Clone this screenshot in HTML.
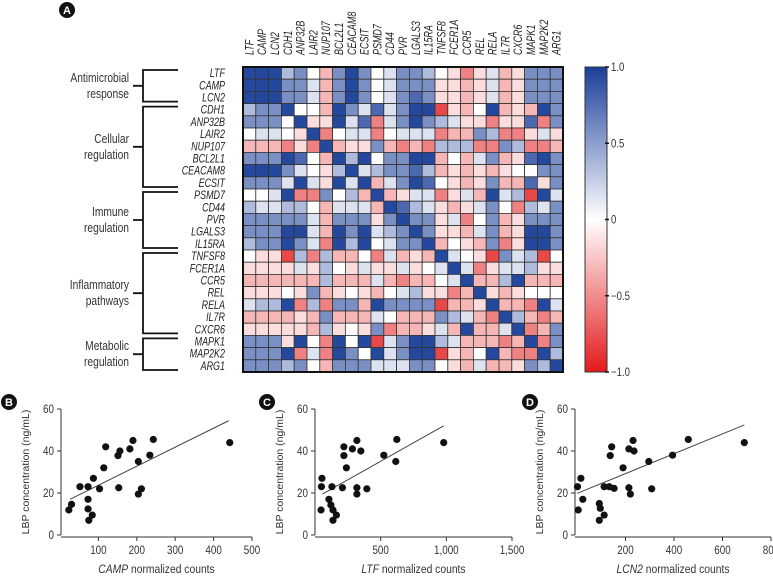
<!DOCTYPE html>
<html><head><meta charset="utf-8"><style>
html,body{margin:0;padding:0;background:#fff;}
svg{display:block;font-family:"Liberation Sans",sans-serif;}
</style></head><body>
<svg id="fig" width="773" height="577" viewBox="0 0 773 577" xmlns="http://www.w3.org/2000/svg">
<g id="panelA"></g>
<g id="panelB"></g>
<g id="panelC"></g>
<g id="panelD"></g>
</svg>
<script>
const genes = ["LTF","CAMP","LCN2","CDH1","ANP32B","LAIR2","NUP107","BCL2L1","CEACAM8","ECSIT","PSMD7","CD44","PVR","LGALS3","IL15RA","TNFSF8","FCER1A","CCR5","REL","RELA","IL7R","CXCR6","MAPK1","MAP2K2","ARG1"];
const corrRows = [
"D D D L M W P M D M W l M M L W p R p l P p M M M",
"D D D M M l P M D M W l M M M p p P p l P p M M M",
"D D D M M l P M D M W l M B M p p P p l P p M M M",
"L M M D W W P D M l B l M D D X p P W D P p P D M",
"M M M W D p p D l B R l M D M L l p p R p p B R M",
"W l l W p D R W l l R W l l l R P P M L R R p l p",
"P P P R p R D P p p M P R P R L L L R R M L R R P",
"M M M D B W P D L D W M M D D P W P l M P p B D M",
"D D D M l W p L D l L M M B L P p P p P p W W M M",
"M M M l D l p D l D P l M D B W p P p M P P B p M",
"W W l D R R M W L P D P p l l R p l P D l L X D l",
"L l l L L W P l l l P D B L l p P p l M W R L l M",
"M M M M M l P M M M p M D M M p l R W M P p M M M",
"M M M D D l P D M D l L M D M p p P l M P p D D M",
"L M M D M l R D L D W l M M D P W p P M R p D D M",
"W p p X L R L P P W R l P p P D l W p X M l L X W",
"p p p p l p L W p l p p l p W l D l R p l l L p p",
"P P P P P P L P P P l P R P P W l D P P L D P P P",
"p p p W p M P p W p P W l L p p R P D p P p W W W",
"l L L D R L R M M P D M M M M X P P p D P P R D l",
"P P P P p P M P P P l W P P P M L l P R D L P R P",
"p p p p p P L p W p M R P P p l P D P P l D R P M",
"M M M p D W R D W D X l M D D L l P P P R P D R M",
"M M M D R l R D M W D l M D D X p P W D P R R D L",
"M M M L M W P M M M l l l M M W p P l P P p M L D"];
const codeVal = {D:0.95,B:0.78,M:0.58,L:0.35,l:0.15,W:0,p:-0.15,P:-0.32,R:-0.55,X:-0.8};
const groupNames = [["Antimicrobial","response"],["Cellular","regulation"],["Immune","regulation"],["Inflammatory","pathways"],["Metabolic","regulation"]];
const groupStarts = [0,3,10,15,22];
const groupEnds = [2,9,14,21,24];
const cbTicks = [1.0,0.5,0,-0.5,-1.0];
const cbTickLabels = ["1.0","0.5","0","\u22120.5","\u22121.0"];

const campX = [23,30,52,73,73,73,75,84,87,103,114,119,151,153,156,182,190,204,204,212,234,243,442];
const campY = [11.9,14.6,23,23,17,12.4,7,9.5,27,22,32,42,37.8,22.5,40,41,45,35,19.5,22,38,45.5,44];
const campFit = [[26,17],[439,54.4]];
const ltfX = [46,53,49,106,121,129,137,137,163,209,220,220,239,285,319,319,319,349,395,524,615,623,980];
const ltfY = [11.9,27,23,17,14.3,23,11.9,7,9.5,22.5,42,37.8,32,41,45,22.5,19.5,40,22,38,35,45.5,44];
const ltfFit = [[57,19.5],[980,52]];
const lcn2X = [2,5,16,24,92,96,92,112,112,133,137,143,153,190,214,214,220,231,235,296,308,394,459,690];
const lcn2Y = [23,11.9,27,17,15,12.7,7,9.5,23,23,37.8,42,22.2,32,41,22.5,19.5,45,40,35,22,38,45.5,44];
const lcn2Fit = [[0,19.8],[690,52.4]];
const yTicks = [0,20,40,60];
const campTicks = [100,200,300,400,500];
const ltfTicks = [500,1000,1500];
const ltfTickLabels = ["500","1,000","1,500"];
const lcn2Ticks = [200,400,600,800];

const NS = "http://www.w3.org/2000/svg";
function mk(tag, attrs, parent, text){
  const e = document.createElementNS(NS, tag);
  for (const k in attrs) e.setAttribute(k, attrs[k]);
  if (text !== undefined) e.textContent = text;
  parent.appendChild(e);
  return e;
}
function color(v){
  const t = Math.min(1, Math.abs(v));
  const c = v >= 0 ? [26,62,154] : [227,26,28];
  const r = Math.round(255 + (c[0]-255)*t), g = Math.round(255 + (c[1]-255)*t), b = Math.round(255 + (c[2]-255)*t);
  return `rgb(${r},${g},${b})`;
}

const A = document.getElementById('panelA');
const gx0 = 243, gy0 = 67, cw = 12.8, ch = 12.2;
const hx = i => gx0 + i*cw;
const hy = j => gy0 + j*ch;
const circA = mk('circle',{cx:67,cy:10,r:8,fill:'#111'},A);


const tA = mk('text',{x:67,y:14,'text-anchor':'middle','font-size':11,'font-weight':'bold',fill:'#fff'},A,'A');



corrRows.forEach((row, j) => {
  row.split(' ').forEach((code, i) => {
    const r = mk('rect',{x:hx(i),y:hy(j),width:cw,height:ch,fill:color(codeVal[code]),stroke:'#333','stroke-width':0.8},A);
    
    
  });
});
const border = mk('rect',{x:gx0,y:gy0,width:cw*25,height:ch*25,fill:'none',stroke:'#111','stroke-width':2},A);



genes.forEach((g, j) => {
  const t = mk('text',{x:0,y:0,'text-anchor':'end','font-size':11.5,'font-style':'italic',fill:'#222',transform:`translate(225,${hy(j)+ch/2+4}) scale(0.78,1)`},A,g);
  
  
  const cx = hx(j)+cw/2+4;
  const c = mk('text',{x:0,y:0,'text-anchor':'start','font-size':11.5,'font-style':'italic',fill:'#222',transform:`translate(${cx},55) rotate(-90) scale(0.78,1)`},A,g);
  
  
});

groupStarts.forEach((s, k) => {
  const e = groupEnds[k];
  const top = hy(s)+3, bot = hy(e+1)-2, mid = (top+bot)/2;
  const br = mk('path',{d:`M178 ${top} H143 V${bot} H178 M143 ${mid} H133`,fill:'none',stroke:'#111','stroke-width':1.8},A);
  
  
  const t1 = mk('text',{x:0,y:0,'text-anchor':'end','font-size':12.5,fill:'#333',transform:`translate(129,${mid-4}) scale(0.82,1)`},A,groupNames[k][0]);
  
  
  const t2 = mk('text',{x:0,y:0,'text-anchor':'end','font-size':12.5,fill:'#333',transform:`translate(129,${mid+12}) scale(0.82,1)`},A,groupNames[k][1]);
  
  
});

const defs = mk('defs',{},A);
const grad = mk('linearGradient',{id:'cbg',x1:0,y1:0,x2:0,y2:1},defs);
mk('stop',{offset:'0%','stop-color':color(1)},grad);
mk('stop',{offset:'50%','stop-color':'#ffffff'},grad);
mk('stop',{offset:'100%','stop-color':color(-1)},grad);
const cbTop = 67, cbBot = 372;
const cbY = v => cbTop + (1-v)/2*(cbBot-cbTop);
const cb = mk('rect',{x:585,y:cbTop,width:22,height:cbBot-cbTop,fill:'url(#cbg)',stroke:'#333','stroke-width':1},A);


cbTicks.forEach((v,k) => {
  mk('line',{x1:605,x2:609,y1:cbY(v),y2:cbY(v),stroke:'#111','stroke-width':1.5},A);
  const t = mk('text',{x:0,y:0,'font-size':12,fill:'#333',transform:`translate(611,${cbY(v)+4}) scale(0.8,1)`},A,cbTickLabels[k]);
  
  
});

function scatter(id, letter, xs, ys, fit, xDom, xRange, ticks, tickLabels, gene, badgeX, axisX0){
  const P = document.getElementById(id);
  const y0 = 535, y1 = 409;
  const sx = v => xRange[0] + (v - xDom[0])/(xDom[1]-xDom[0])*(xRange[1]-xRange[0]);
  const sy = v => y0 + (v/60)*(y1-y0);
  const b = mk('circle',{cx:badgeX,cy:402,r:8,fill:'#111'},P);
  
  
  const bt = mk('text',{x:badgeX,y:406,'text-anchor':'middle','font-size':11,'font-weight':'bold',fill:'#fff'},P,letter);
  
  
  const ya = mk('line',{x1:axisX0,x2:axisX0,y1:y1,y2:y0,stroke:'#333','stroke-width':1},P);
  
  
  yTicks.forEach(v => {
    mk('line',{x1:axisX0-4,x2:axisX0,y1:sy(v),y2:sy(v),stroke:'#333','stroke-width':1},P);
    const t = mk('text',{x:0,y:0,'text-anchor':'end','font-size':12,fill:'#333',transform:`translate(${axisX0-7},${sy(v)+4}) scale(0.82,1)`},P,String(v));
    
    
  });
  const xa = mk('line',{x1:axisX0,x2:xRange[1],y1:537,y2:537,stroke:'#333','stroke-width':1},P);
  
  
  ticks.forEach((v,k) => {
    mk('line',{x1:sx(v),x2:sx(v),y1:537,y2:541,stroke:'#333','stroke-width':1},P);
    const t = mk('text',{x:0,y:0,'text-anchor':'middle','font-size':12,fill:'#333',transform:`translate(${sx(v)},554) scale(0.82,1)`},P,tickLabels[k]);
    
    
  });
  const yt = mk('text',{x:0,y:0,'text-anchor':'middle','font-size':10.5,fill:'#333',transform:`translate(${axisX0-32},472) rotate(-90)`},P,'LBP concentration (ng/mL)');
  
  
  const xt = mk('text',{x:0,y:0,'text-anchor':'middle','font-size':12,fill:'#333',transform:`translate(${(axisX0+xRange[1])/2},573) scale(0.86,1)`},P);
  
  
  mk('tspan',{'font-style':'italic'},xt,gene);
  mk('tspan',{},xt,' normalized counts');
  const fl = mk('line',{x1:sx(fit[0][0]),y1:sy(fit[0][1]),x2:sx(fit[1][0]),y2:sy(fit[1][1]),stroke:'#444','stroke-width':1},P);
  
  
  xs.forEach((v,i) => {
    const d = mk('circle',{cx:sx(v),cy:sy(ys[i]),r:3.6,fill:'#111'},P);
    
    
  });
}
scatter('panelB','B',campX,campY,campFit,[0,500],[60,252],campTicks,campTicks.map(String),'CAMP',9,61);
scatter('panelC','C',ltfX,ltfY,ltfFit,[0,1500],[315,512],ltfTicks,ltfTickLabels,'LTF',267,315);
scatter('panelD','D',lcn2X,lcn2Y,lcn2Fit,[0,800],[577,771],lcn2Ticks,lcn2Ticks.map(String),'LCN2',530,575);
</script>
</body></html>
